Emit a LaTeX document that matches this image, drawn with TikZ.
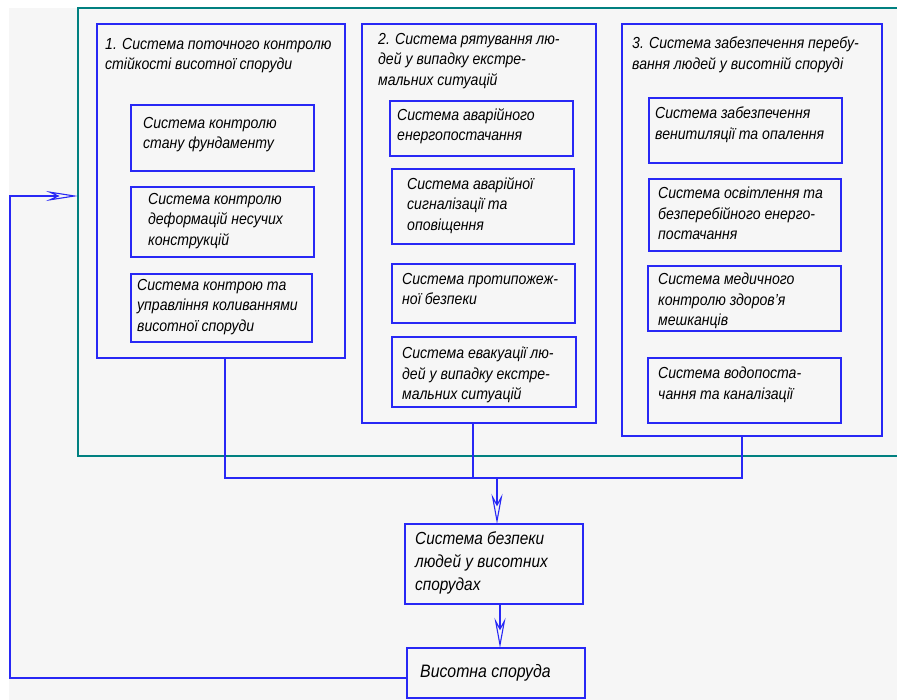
\documentclass[tikz,border=0pt]{standalone}
\usepackage{fontspec}
\setmainfont{Liberation Sans}[FakeStretch=0.88]
\usetikzlibrary{arrows.meta}
\definecolor{lblue}{RGB}{40,40,245}
\definecolor{lteal}{RGB}{0,128,128}
\definecolor{bggray}{RGB}{246,246,246}
\tikzset{
  bx/.style={draw=lblue, line width=1.1pt, inner sep=0pt, outer sep=0pt, anchor=north west},
  txt/.style={anchor=north west, inner sep=0pt, align=left, font=\fontsize{16}{20.5}\selectfont\itshape},
  bigtxt/.style={anchor=north west, inner sep=0pt, align=left, font=\fontsize{17.5}{23}\selectfont\itshape},
  conn/.style={draw=lblue, line width=1.1pt},
  arr/.style={conn, -{Stealth[open, length=30pt, width=11pt, inset=10pt]}},
}
\newcommand{\mybox}[5]{\node[bx, minimum width={(#4-#2)*1pt}, minimum height={(#5-#3)*1pt}] (#1) at (#2,#3) {};}
\begin{document}
\begin{tikzpicture}[x=1pt,y=-1pt]
\useasboundingbox (0,0) rectangle (897,700);
\fill[white] (0,0) rectangle (897,700);
\fill[bggray] (9,8) rectangle (897,700);
% outer teal frame (open to the right)
\draw[lteal, line width=1.8pt] (897,8) -- (78,8) -- (78,456) -- (897,456);
% panels
\mybox{pone}{97}{24}{345}{358}
\mybox{ptwo}{362}{24}{596}{423}
\mybox{pthree}{622}{24}{882}{436}
% sub boxes panel 1
\mybox{a}{131}{105}{314}{171}
\mybox{b}{131}{187}{314}{257}
\mybox{c}{131}{274}{312}{342}
% panel 2
\mybox{d}{390}{101}{573}{156}
\mybox{e}{392}{169}{574}{244}
\mybox{f}{392}{264}{575}{323}
\mybox{g}{392}{337}{576}{407}
% panel 3
\mybox{h}{649}{98}{842}{163}
\mybox{i}{649}{179}{841}{251}
\mybox{j}{648}{266}{841}{331}
\mybox{k}{648}{358}{841}{423}
% bottom
\mybox{s}{405}{524}{583}{604}
\mybox{v}{407}{648}{585}{698}
% texts
\node[txt] (tone) at (105,38) {1. Система поточного контролю\\стійкості висотної споруди};
\node[txt] (ta) at (143,117) {Система контролю\\стану фундаменту};
\node[txt] (tb) at (148,193) {Система контролю\\деформацій несучих\\конструкцій};
\node[txt] (tc) at (137,279) {Система контрою та\\управління коливаннями\\висотної споруди};
\node[txt] (ttwo) at (378,33) {2. Система рятування лю-\\дей у випадку екстре-\\мальних ситуацій};
\node[txt] (td) at (397,108) {Система аварійного\\енергопостачання};
\node[txt] (te) at (407,177) {Система аварійної\\сигналізації та\\оповіщення};
\node[txt] (tf) at (402,273) {Система протипожеж-\\ної безпеки};
\node[txt] (tg) at (402,347) {Система евакуації лю-\\дей у випадку екстре-\\мальних ситуацій};
\node[txt] (tthree) at (632,37) {3. Система забезпечення перебу-\\вання людей у висотній споруді};
\node[txt] (th) at (655,107) {Система забезпечення\\венитиляції та опалення};
\node[txt] (ti) at (658,187) {Система освітлення та\\безперебійного енерго-\\постачання};
\node[txt] (tj) at (658,273) {Система медичного\\контролю здоров'я\\мешканців};
\node[txt] (tk) at (658,367) {Система водопоста-\\чання та каналізації};
\node[bigtxt] (ts) at (415,531) {Система безпеки\\людей у висотних\\спорудах};
\node[anchor=west, inner sep=0pt, font=\fontsize{18}{22}\selectfont\itshape] (tv) at (420,673) {Висотна споруда};
% connectors
\coordinate (jone) at (225,478);
\coordinate (jtwo) at (473,478);
\coordinate (jthree) at (742,478);
\coordinate (jarr) at (497,478);
\draw[conn] (pone.south -| jone) -- (jone) -- (jthree) -- (pthree.south -| jthree);
\draw[conn] (ptwo.south -| jtwo) -- (jtwo);
\draw[arr] (jarr) -- (s.north -| jarr);
\coordinate (sv) at (500,604);
\draw[arr] (sv) -- (v.north -| sv);
\coordinate (fbl) at (10,678);
\coordinate (fbu) at (10,196);
\coordinate (fbe) at (78,196);
\draw[conn, -{Stealth[open, length=32pt, width=10pt, inset=11pt]}] (v.west |- fbl) -- (fbl) -- (fbu) -- (fbe);
\end{tikzpicture}
\end{document}
